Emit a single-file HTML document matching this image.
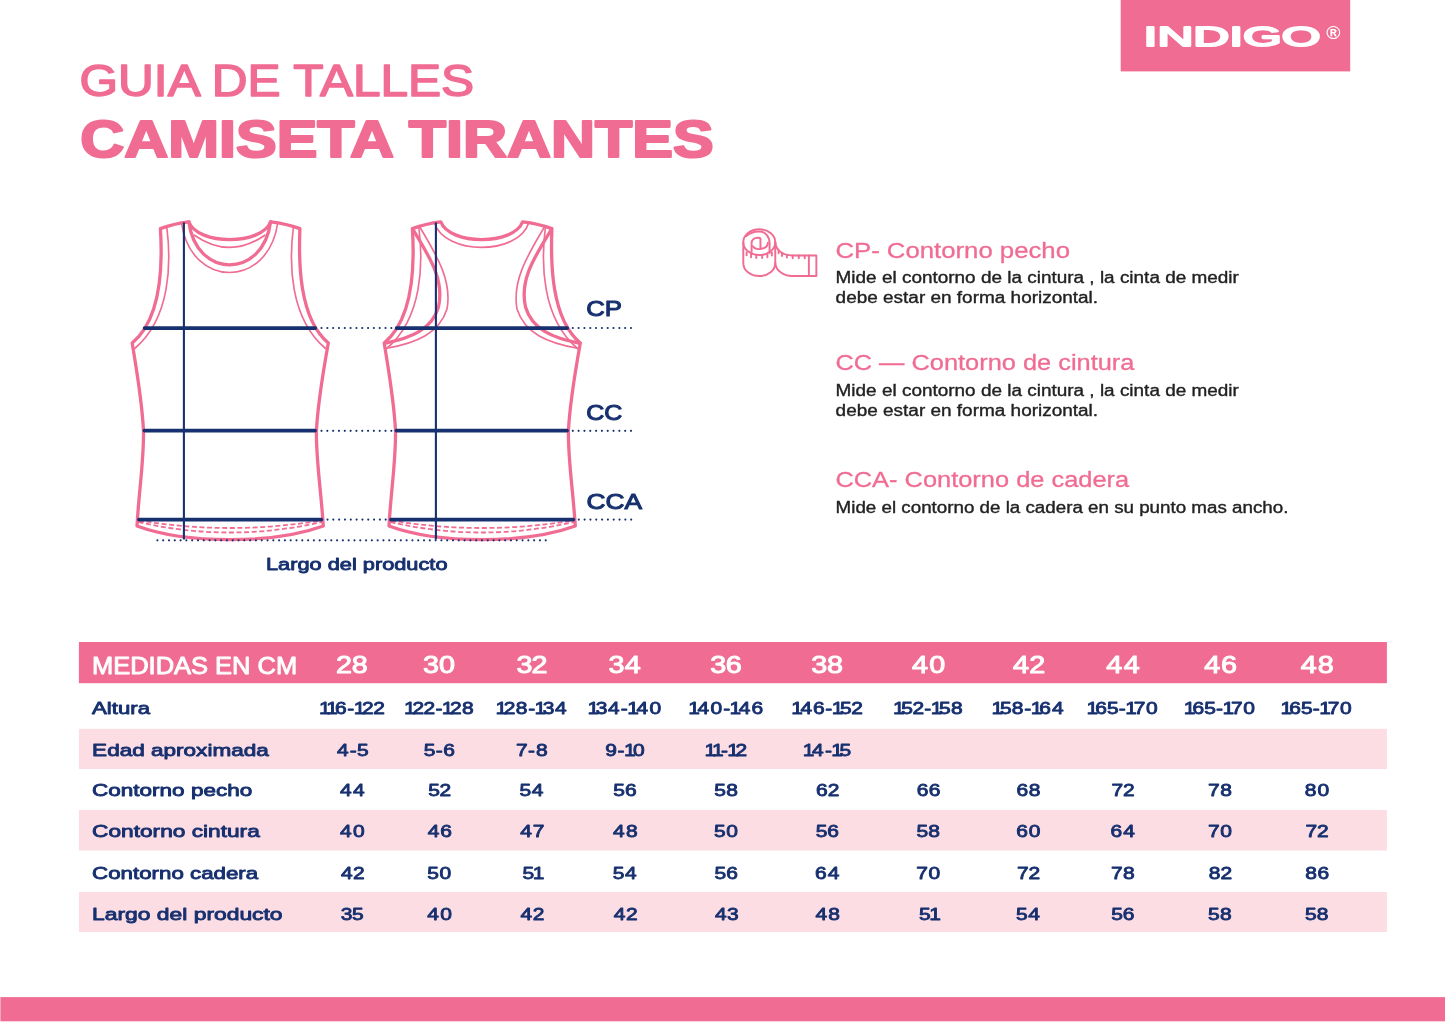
<!DOCTYPE html>
<html lang="es"><head><meta charset="utf-8"><title>Guia de talles - Camiseta tirantes</title>
<style>html,body{margin:0;padding:0;background:#fff}body{width:1445px;height:1022px;overflow:hidden;position:relative;font-family:"Liberation Sans", sans-serif}svg{position:absolute;left:0;top:0;display:block}svg text{font-family:"Liberation Sans", sans-serif;white-space:pre}</style>
</head><body>
<svg width="1445" height="1022" viewBox="0 0 1445 1022">
<rect x="1120.7" y="0" width="229.5" height="71.4" fill="#f06c93"/>
<rect x="0.4" y="997.1" width="1444.6" height="24.2" fill="#f06c93"/>
<text x="1143.6" y="46.1" font-size="27.2" fill="#fff" textLength="176.8" lengthAdjust="spacingAndGlyphs" stroke="#fff" stroke-width="2.0" stroke-linejoin="round">INDIGO</text>
<text x="1326.3" y="38.6" font-size="17.5" fill="#fff" font-weight="700" textLength="14.2" lengthAdjust="spacingAndGlyphs">®</text>
<text x="79.6" y="96.0" font-size="44.2" fill="#f06c93" textLength="394.5" lengthAdjust="spacingAndGlyphs" stroke="#f06c93" stroke-width="1.5" stroke-linejoin="round">GUIA DE TALLES</text>
<text x="80.2" y="156.5" font-size="51.0" fill="#f06c93" font-weight="700" textLength="633.5" lengthAdjust="spacingAndGlyphs" stroke="#f06c93" stroke-width="2.2" stroke-linejoin="round">CAMISETA TIRANTES</text>
<g transform="translate(0,0)" fill="none" stroke="#f06c93" stroke-linecap="round" stroke-linejoin="round">
<path d="M188.8,221.8 Q173.5,223.6 160.4,228.6 C162.5,262 162.3,318 132.2,343 C136.5,370 142,400 143.5,431 C144,460 139,490 137,526 C165,536.3 198,539.6 229.6,539.6 C262,539.6 295,536.3 323.3,526 C321,490 316,460 316.4,431 C318,400 323.5,370 328.3,343 C298.8,318 298.6,262 299.9,228.6 Q286.5,223.6 270.6,221.8 C263.2,279.2 196.2,279.2 188.8,221.8 Z" stroke-width="3.3"/>
<path d="M166.8,227 C171.2,262 171,318 134.7,348.5" stroke-width="1.65"/>
<path d="M293.4,227 C289,262 289.2,318 325.5,348.5" stroke-width="1.65"/>
<path d="M188.8,221.8 C197.4,245.5 262,245.5 270.6,221.8" stroke-width="3.3"/>
<path d="M194.4,235.2 Q229.6,259.6 264.8,235.2" stroke-width="1.65"/>
<path d="M181.5,223 C191,289 268.2,289 277.7,223" stroke-width="1.65"/>
<path d="M139,520.5 Q229.6,535.5 321.3,520.5" stroke-width="1.8" stroke-dasharray="5 2.6" stroke-linecap="butt"/>
<path d="M138.5,522 Q229.6,543 321.8,522" stroke-width="1.8" stroke-dasharray="5 2.6" stroke-linecap="butt"/>
</g>
<g transform="translate(252,0)" fill="none" stroke="#f06c93" stroke-linecap="round" stroke-linejoin="round">
<path d="M188.8,221.8 Q173.5,223.6 160.4,228.6 C162.5,262 162.3,318 132.2,343 C136.5,370 142,400 143.5,431 C144,460 139,490 137,526 C165,536.3 198,539.6 229.6,539.6 C262,539.6 295,536.3 323.3,526 C321,490 316,460 316.4,431 C318,400 323.5,370 328.3,343 C298.8,318 298.6,262 299.9,228.6 Q286.5,223.6 270.6,221.8 C262,245.5 197.4,245.5 188.8,221.8 Z" stroke-width="3.3"/>
<path d="M166.8,227 C171.2,262 171,318 134.7,348.5" stroke-width="1.65"/>
<path d="M293.4,227 C289,262 289.2,318 325.5,348.5" stroke-width="1.65"/>
<path d="M182.5,223 C193,255.5 266.2,255.5 276.7,223" stroke-width="1.65"/>
<path d="M161.2,229.8 C181,262 192,282 186.5,307 C180,329 160,338 132.6,343.3" stroke-width="3.3"/>
<path d="M299.2,229.8 C279,262 268,282 273.5,307 C280,329 300,338 327.9,343.3" stroke-width="3.3"/>
<path d="M167.2,226 C186.5,258 200,282 195,309 C187.5,333 165,343 133.5,348.5" stroke-width="1.65"/>
<path d="M293,226 C273.7,258 260.2,282 265,309 C272.5,333 295,343 327,348.5" stroke-width="1.65"/>
<path d="M139,520.5 Q229.6,535.5 321.3,520.5" stroke-width="1.8" stroke-dasharray="5 2.6" stroke-linecap="butt"/>
<path d="M138.5,522 Q229.6,543 321.8,522" stroke-width="1.8" stroke-dasharray="5 2.6" stroke-linecap="butt"/>
</g>
<g stroke="#17306f" fill="none" stroke-linecap="round">
<line x1="183.9" y1="222.5" x2="183.9" y2="539.5" stroke-width="2.1" stroke-linecap="butt"/>
<line x1="144.6" y1="328" x2="315.2" y2="328" stroke-width="3.75"/>
<line x1="144.4" y1="430.6" x2="315" y2="430.6" stroke-width="3.75"/>
<line x1="139" y1="519.5" x2="321.3" y2="519.5" stroke-width="3.75"/>
<line x1="435.9" y1="222.5" x2="435.9" y2="539.5" stroke-width="2.1" stroke-linecap="butt"/>
<line x1="396.6" y1="328" x2="567.2" y2="328" stroke-width="3.75"/>
<line x1="396.4" y1="430.6" x2="567" y2="430.6" stroke-width="3.75"/>
<line x1="391" y1="519.5" x2="573.3" y2="519.5" stroke-width="3.75"/>
<line x1="321.5" y1="328" x2="392.5" y2="328" stroke-width="2.15" stroke-dasharray="0 5.82"/>
<line x1="572.8" y1="328" x2="632" y2="328" stroke-width="2.15" stroke-dasharray="0 5.82"/>
<line x1="321.5" y1="430.8" x2="392.5" y2="430.8" stroke-width="2.15" stroke-dasharray="0 5.82"/>
<line x1="572.8" y1="430.8" x2="632" y2="430.8" stroke-width="2.15" stroke-dasharray="0 5.82"/>
<line x1="327.5" y1="519.6" x2="386" y2="519.6" stroke-width="2.15" stroke-dasharray="0 5.82"/>
<line x1="578.8" y1="519.6" x2="632.5" y2="519.6" stroke-width="2.15" stroke-dasharray="0 5.82"/>
<line x1="157.4" y1="540.3" x2="546.5" y2="540.3" stroke-width="2.15" stroke-dasharray="0 5.796"/>
</g>
<text x="586.2" y="316.4" font-size="22.8" fill="#17306f" textLength="35.8" lengthAdjust="spacingAndGlyphs" stroke="#17306f" stroke-width="1.05" stroke-linejoin="round">CP</text>
<text x="586.2" y="420.4" font-size="22.8" fill="#17306f" textLength="36.2" lengthAdjust="spacingAndGlyphs" stroke="#17306f" stroke-width="1.05" stroke-linejoin="round">CC</text>
<text x="586.6" y="509.0" font-size="22.8" fill="#17306f" textLength="55.6" lengthAdjust="spacingAndGlyphs" stroke="#17306f" stroke-width="1.05" stroke-linejoin="round">CCA</text>
<text x="266.0" y="569.9" font-size="16.7" fill="#17306f" textLength="181.5" lengthAdjust="spacingAndGlyphs" stroke="#17306f" stroke-width="0.85" stroke-linejoin="round">Largo del producto</text>
<g transform="translate(730,220) scale(0.0692)" fill="none" stroke="#f06c93" stroke-width="28" stroke-linecap="round" stroke-linejoin="round">
<ellipse cx="423" cy="320" rx="231" ry="187"/>
<path d="M192,320 V620 C192,728 295,810 423,810 C551,810 654,728 654,620 V320"/>
<path d="M654,320 C660,432 760,513 900,513 H1248 V810 H900 C772,810 660,730 654,620"/>
<line x1="1140" y1="513" x2="1140" y2="810"/>
<path d="M232,236 C280,190 350,165 422,165 C510,165 572,240 572,330 V478"/>
<path d="M312,478 V335 C312,290 350,258 400,256 C420,255 440,262 440,275 V405"/>
<path d="M330,380 C350,410 400,425 440,418 C500,410 545,380 548,330"/>
<line x1="240" y1="468" x2="240" y2="510"/>
<line x1="305" y1="495" x2="305" y2="537"/>
<line x1="380" y1="507" x2="380" y2="549"/>
<line x1="465" y1="507" x2="465" y2="549"/>
<line x1="540" y1="495" x2="540" y2="537"/>
<line x1="605" y1="470" x2="605" y2="512"/>
<line x1="702" y1="440" x2="702" y2="482"/>
<line x1="752" y1="478" x2="752" y2="520"/>
<line x1="822" y1="500" x2="822" y2="542"/>
<line x1="906" y1="512" x2="906" y2="554"/>
<line x1="994" y1="512" x2="994" y2="554"/>
<line x1="1080" y1="512" x2="1080" y2="554"/>
</g>
<text x="835.4" y="257.5" font-size="22.2" fill="#f06c93" textLength="234.6" lengthAdjust="spacingAndGlyphs" stroke="#f06c93" stroke-width="0.3" stroke-linejoin="round">CP- Contorno pecho</text>
<text x="835.6" y="283.4" font-size="15.6" fill="#222222" textLength="403.3" lengthAdjust="spacingAndGlyphs" stroke="#222222" stroke-width="0.35" stroke-linejoin="round">Mide el contorno de la cintura , la cinta de medir</text>
<text x="835.6" y="303.4" font-size="15.6" fill="#222222" textLength="262.5" lengthAdjust="spacingAndGlyphs" stroke="#222222" stroke-width="0.35" stroke-linejoin="round">debe estar en forma horizontal.</text>
<text x="835.4" y="369.7" font-size="22.2" fill="#f06c93" textLength="299.0" lengthAdjust="spacingAndGlyphs" stroke="#f06c93" stroke-width="0.3" stroke-linejoin="round">CC — Contorno de cintura</text>
<text x="835.6" y="395.8" font-size="15.6" fill="#222222" textLength="403.3" lengthAdjust="spacingAndGlyphs" stroke="#222222" stroke-width="0.35" stroke-linejoin="round">Mide el contorno de la cintura , la cinta de medir</text>
<text x="835.6" y="415.6" font-size="15.6" fill="#222222" textLength="262.5" lengthAdjust="spacingAndGlyphs" stroke="#222222" stroke-width="0.35" stroke-linejoin="round">debe estar en forma horizontal.</text>
<text x="835.4" y="486.9" font-size="22.2" fill="#f06c93" textLength="293.8" lengthAdjust="spacingAndGlyphs" stroke="#f06c93" stroke-width="0.3" stroke-linejoin="round">CCA- Contorno de cadera</text>
<text x="835.6" y="513.2" font-size="15.6" fill="#222222" textLength="452.8" lengthAdjust="spacingAndGlyphs" stroke="#222222" stroke-width="0.35" stroke-linejoin="round">Mide el contorno de la cadera en su punto mas ancho.</text>
<rect x="78.9" y="642" width="1308" height="41.2" fill="#f06c93"/>
<rect x="78.9" y="728.8" width="1308" height="40.3" fill="#fcdde4"/>
<rect x="78.9" y="810.0" width="1308" height="40.5" fill="#fcdde4"/>
<rect x="78.9" y="892.0" width="1308" height="40.0" fill="#fcdde4"/>
<text x="92.0" y="673.8" font-size="23.0" fill="#fff" textLength="205.2" lengthAdjust="spacingAndGlyphs" stroke="#fff" stroke-width="0.9" stroke-linejoin="round">MEDIDAS EN CM</text>
<text transform="translate(352.3,673.3) scale(1.17,1)" x="-13.97 -0.46" y="0" font-size="24.6" fill="#fff" stroke="#fff" stroke-width="1.0" stroke-linejoin="round">28</text>
<text transform="translate(439.6,673.3) scale(1.17,1)" x="-14.21 -0.46" y="0" font-size="24.6" fill="#fff" stroke="#fff" stroke-width="1.0" stroke-linejoin="round">30</text>
<text transform="translate(532.0,673.3) scale(1.17,1)" x="-13.22 -0.46" y="0" font-size="24.6" fill="#fff" stroke="#fff" stroke-width="1.0" stroke-linejoin="round">32</text>
<text transform="translate(625.2,673.3) scale(1.17,1)" x="-14.31 -0.46" y="0" font-size="24.6" fill="#fff" stroke="#fff" stroke-width="1.0" stroke-linejoin="round">34</text>
<text transform="translate(726.3,673.3) scale(1.17,1)" x="-13.69 -0.46" y="0" font-size="24.6" fill="#fff" stroke="#fff" stroke-width="1.0" stroke-linejoin="round">36</text>
<text transform="translate(827.5,673.3) scale(1.17,1)" x="-13.97 -0.46" y="0" font-size="24.6" fill="#fff" stroke="#fff" stroke-width="1.0" stroke-linejoin="round">38</text>
<text transform="translate(928.5,673.3) scale(1.17,1)" x="-14.21 0.63" y="0" font-size="24.6" fill="#fff" stroke="#fff" stroke-width="1.0" stroke-linejoin="round">40</text>
<text transform="translate(1028.5,673.3) scale(1.17,1)" x="-13.22 0.63" y="0" font-size="24.6" fill="#fff" stroke="#fff" stroke-width="1.0" stroke-linejoin="round">42</text>
<text transform="translate(1123.0,673.3) scale(1.17,1)" x="-14.31 0.63" y="0" font-size="24.6" fill="#fff" stroke="#fff" stroke-width="1.0" stroke-linejoin="round">44</text>
<text transform="translate(1220.2,673.3) scale(1.17,1)" x="-13.69 0.63" y="0" font-size="24.6" fill="#fff" stroke="#fff" stroke-width="1.0" stroke-linejoin="round">46</text>
<text transform="translate(1317.0,673.3) scale(1.17,1)" x="-13.97 0.63" y="0" font-size="24.6" fill="#fff" stroke="#fff" stroke-width="1.0" stroke-linejoin="round">48</text>
<text x="92.1" y="714.0" font-size="17.0" fill="#17306f" textLength="57.9" lengthAdjust="spacingAndGlyphs" stroke="#17306f" stroke-width="0.85" stroke-linejoin="round">Altura</text>
<text transform="translate(352.3,714.0) scale(1.22,1)" x="-27.33 -21.26 -14.15 -4.08 1.14 7.90 17.08" y="0" font-size="17.2" fill="#17306f" stroke="#17306f" stroke-width="0.85" stroke-linejoin="round">116-122</text>
<text transform="translate(439.6,714.0) scale(1.22,1)" x="-29.09 -22.32 -13.15 -3.41 1.81 8.57 18.29" y="0" font-size="17.2" fill="#17306f" stroke="#17306f" stroke-width="0.85" stroke-linejoin="round">122-128</text>
<text transform="translate(532.0,714.0) scale(1.22,1)" x="-29.87 -23.11 -13.39 -3.11 2.11 8.87 18.83" y="0" font-size="17.2" fill="#17306f" stroke="#17306f" stroke-width="0.85" stroke-linejoin="round">128-134</text>
<text transform="translate(625.2,714.0) scale(1.22,1)" x="-30.83 -24.07 -14.11 -3.58 1.63 9.19 19.86" y="0" font-size="17.2" fill="#17306f" stroke="#17306f" stroke-width="0.85" stroke-linejoin="round">134-140</text>
<text transform="translate(726.3,714.0) scale(1.22,1)" x="-31.17 -23.62 -12.94 -2.49 2.73 10.28 20.58" y="0" font-size="17.2" fill="#17306f" stroke="#17306f" stroke-width="0.85" stroke-linejoin="round">140-146</text>
<text transform="translate(827.5,714.0) scale(1.22,1)" x="-29.71 -22.16 -11.86 -1.78 3.44 10.24 19.45" y="0" font-size="17.2" fill="#17306f" stroke="#17306f" stroke-width="0.85" stroke-linejoin="round">146-152</text>
<text transform="translate(928.5,714.0) scale(1.22,1)" x="-29.16 -22.36 -13.15 -3.41 1.81 8.61 18.37" y="0" font-size="17.2" fill="#17306f" stroke="#17306f" stroke-width="0.85" stroke-linejoin="round">152-158</text>
<text transform="translate(1028.5,714.0) scale(1.22,1)" x="-30.25 -23.45 -13.69 -3.41 1.81 8.91 19.21" y="0" font-size="17.2" fill="#17306f" stroke="#17306f" stroke-width="0.85" stroke-linejoin="round">158-164</text>
<text transform="translate(1123.0,714.0) scale(1.22,1)" x="-29.83 -22.72 -13.17 -3.39 1.82 8.78 18.86" y="0" font-size="17.2" fill="#17306f" stroke="#17306f" stroke-width="0.85" stroke-linejoin="round">165-170</text>
<text transform="translate(1220.2,714.0) scale(1.22,1)" x="-29.83 -22.72 -13.17 -3.39 1.82 8.78 18.86" y="0" font-size="17.2" fill="#17306f" stroke="#17306f" stroke-width="0.85" stroke-linejoin="round">165-170</text>
<text transform="translate(1317.0,714.0) scale(1.22,1)" x="-29.83 -22.72 -13.17 -3.39 1.82 8.78 18.86" y="0" font-size="17.2" fill="#17306f" stroke="#17306f" stroke-width="0.85" stroke-linejoin="round">165-170</text>
<text x="92.1" y="755.5" font-size="17.0" fill="#17306f" textLength="176.7" lengthAdjust="spacingAndGlyphs" stroke="#17306f" stroke-width="0.85" stroke-linejoin="round">Edad aproximada</text>
<text transform="translate(352.3,755.5) scale(1.22,1)" x="-12.64 -2.12 3.83" y="0" font-size="17.2" fill="#17306f" stroke="#17306f" stroke-width="0.85" stroke-linejoin="round">4-5</text>
<text transform="translate(439.6,755.5) scale(1.22,1)" x="-12.94 -3.16 3.08" y="0" font-size="17.2" fill="#17306f" stroke="#17306f" stroke-width="0.85" stroke-linejoin="round">5-6</text>
<text transform="translate(532.0,755.5) scale(1.22,1)" x="-13.15 -3.22 3.23" y="0" font-size="17.2" fill="#17306f" stroke="#17306f" stroke-width="0.85" stroke-linejoin="round">7-8</text>
<text transform="translate(625.2,755.5) scale(1.22,1)" x="-16.36 -6.28 -1.07 6.42" y="0" font-size="17.2" fill="#17306f" stroke="#17306f" stroke-width="0.85" stroke-linejoin="round">9-10</text>
<text transform="translate(726.3,755.5) scale(1.22,1)" x="-17.82 -11.74 -4.41 0.80 7.56" y="0" font-size="17.2" fill="#17306f" stroke="#17306f" stroke-width="0.85" stroke-linejoin="round">11-12</text>
<text transform="translate(827.5,755.5) scale(1.22,1)" x="-20.19 -12.64 -2.12 3.10 9.90" y="0" font-size="17.2" fill="#17306f" stroke="#17306f" stroke-width="0.85" stroke-linejoin="round">14-15</text>
<text x="92.1" y="796.4" font-size="17.0" fill="#17306f" textLength="160.1" lengthAdjust="spacingAndGlyphs" stroke="#17306f" stroke-width="0.85" stroke-linejoin="round">Contorno pecho</text>
<text transform="translate(352.3,796.4) scale(1.22,1)" x="-10.16 0.59" y="0" font-size="17.2" fill="#17306f" stroke="#17306f" stroke-width="0.85" stroke-linejoin="round">44</text>
<text transform="translate(439.6,796.4) scale(1.22,1)" x="-9.37 -0.15" y="0" font-size="17.2" fill="#17306f" stroke="#17306f" stroke-width="0.85" stroke-linejoin="round">52</text>
<text transform="translate(532.0,796.4) scale(1.22,1)" x="-10.16 -0.15" y="0" font-size="17.2" fill="#17306f" stroke="#17306f" stroke-width="0.85" stroke-linejoin="round">54</text>
<text transform="translate(625.2,796.4) scale(1.22,1)" x="-9.71 -0.15" y="0" font-size="17.2" fill="#17306f" stroke="#17306f" stroke-width="0.85" stroke-linejoin="round">56</text>
<text transform="translate(726.3,796.4) scale(1.22,1)" x="-9.91 -0.15" y="0" font-size="17.2" fill="#17306f" stroke="#17306f" stroke-width="0.85" stroke-linejoin="round">58</text>
<text transform="translate(827.5,796.4) scale(1.22,1)" x="-9.37 0.14" y="0" font-size="17.2" fill="#17306f" stroke="#17306f" stroke-width="0.85" stroke-linejoin="round">62</text>
<text transform="translate(928.5,796.4) scale(1.22,1)" x="-9.71 0.14" y="0" font-size="17.2" fill="#17306f" stroke="#17306f" stroke-width="0.85" stroke-linejoin="round">66</text>
<text transform="translate(1028.5,796.4) scale(1.22,1)" x="-9.91 0.14" y="0" font-size="17.2" fill="#17306f" stroke="#17306f" stroke-width="0.85" stroke-linejoin="round">68</text>
<text transform="translate(1123.0,796.4) scale(1.22,1)" x="-9.37 -0.01" y="0" font-size="17.2" fill="#17306f" stroke="#17306f" stroke-width="0.85" stroke-linejoin="round">72</text>
<text transform="translate(1220.2,796.4) scale(1.22,1)" x="-9.91 -0.01" y="0" font-size="17.2" fill="#17306f" stroke="#17306f" stroke-width="0.85" stroke-linejoin="round">78</text>
<text transform="translate(1317.0,796.4) scale(1.22,1)" x="-10.09 0.35" y="0" font-size="17.2" fill="#17306f" stroke="#17306f" stroke-width="0.85" stroke-linejoin="round">80</text>
<text x="92.1" y="837.4" font-size="17.0" fill="#17306f" textLength="167.7" lengthAdjust="spacingAndGlyphs" stroke="#17306f" stroke-width="0.85" stroke-linejoin="round">Contorno cintura</text>
<text transform="translate(352.3,837.4) scale(1.22,1)" x="-10.09 0.59" y="0" font-size="17.2" fill="#17306f" stroke="#17306f" stroke-width="0.85" stroke-linejoin="round">40</text>
<text transform="translate(439.6,837.4) scale(1.22,1)" x="-9.71 0.59" y="0" font-size="17.2" fill="#17306f" stroke="#17306f" stroke-width="0.85" stroke-linejoin="round">46</text>
<text transform="translate(532.0,837.4) scale(1.22,1)" x="-9.56 0.59" y="0" font-size="17.2" fill="#17306f" stroke="#17306f" stroke-width="0.85" stroke-linejoin="round">47</text>
<text transform="translate(625.2,837.4) scale(1.22,1)" x="-9.91 0.59" y="0" font-size="17.2" fill="#17306f" stroke="#17306f" stroke-width="0.85" stroke-linejoin="round">48</text>
<text transform="translate(726.3,837.4) scale(1.22,1)" x="-10.09 -0.15" y="0" font-size="17.2" fill="#17306f" stroke="#17306f" stroke-width="0.85" stroke-linejoin="round">50</text>
<text transform="translate(827.5,837.4) scale(1.22,1)" x="-9.71 -0.15" y="0" font-size="17.2" fill="#17306f" stroke="#17306f" stroke-width="0.85" stroke-linejoin="round">56</text>
<text transform="translate(928.5,837.4) scale(1.22,1)" x="-9.91 -0.15" y="0" font-size="17.2" fill="#17306f" stroke="#17306f" stroke-width="0.85" stroke-linejoin="round">58</text>
<text transform="translate(1028.5,837.4) scale(1.22,1)" x="-10.09 0.14" y="0" font-size="17.2" fill="#17306f" stroke="#17306f" stroke-width="0.85" stroke-linejoin="round">60</text>
<text transform="translate(1123.0,837.4) scale(1.22,1)" x="-10.16 0.14" y="0" font-size="17.2" fill="#17306f" stroke="#17306f" stroke-width="0.85" stroke-linejoin="round">64</text>
<text transform="translate(1220.2,837.4) scale(1.22,1)" x="-10.09 -0.01" y="0" font-size="17.2" fill="#17306f" stroke="#17306f" stroke-width="0.85" stroke-linejoin="round">70</text>
<text transform="translate(1317.0,837.4) scale(1.22,1)" x="-9.37 -0.01" y="0" font-size="17.2" fill="#17306f" stroke="#17306f" stroke-width="0.85" stroke-linejoin="round">72</text>
<text x="92.1" y="878.5" font-size="17.0" fill="#17306f" textLength="166.1" lengthAdjust="spacingAndGlyphs" stroke="#17306f" stroke-width="0.85" stroke-linejoin="round">Contorno cadera</text>
<text transform="translate(352.3,878.5) scale(1.22,1)" x="-9.37 0.59" y="0" font-size="17.2" fill="#17306f" stroke="#17306f" stroke-width="0.85" stroke-linejoin="round">42</text>
<text transform="translate(439.6,878.5) scale(1.22,1)" x="-10.09 -0.15" y="0" font-size="17.2" fill="#17306f" stroke="#17306f" stroke-width="0.85" stroke-linejoin="round">50</text>
<text transform="translate(532.0,878.5) scale(1.22,1)" x="-7.82 0.71" y="0" font-size="17.2" fill="#17306f" stroke="#17306f" stroke-width="0.85" stroke-linejoin="round">51</text>
<text transform="translate(625.2,878.5) scale(1.22,1)" x="-10.16 -0.15" y="0" font-size="17.2" fill="#17306f" stroke="#17306f" stroke-width="0.85" stroke-linejoin="round">54</text>
<text transform="translate(726.3,878.5) scale(1.22,1)" x="-9.71 -0.15" y="0" font-size="17.2" fill="#17306f" stroke="#17306f" stroke-width="0.85" stroke-linejoin="round">56</text>
<text transform="translate(827.5,878.5) scale(1.22,1)" x="-10.16 0.14" y="0" font-size="17.2" fill="#17306f" stroke="#17306f" stroke-width="0.85" stroke-linejoin="round">64</text>
<text transform="translate(928.5,878.5) scale(1.22,1)" x="-10.09 -0.01" y="0" font-size="17.2" fill="#17306f" stroke="#17306f" stroke-width="0.85" stroke-linejoin="round">70</text>
<text transform="translate(1028.5,878.5) scale(1.22,1)" x="-9.37 -0.01" y="0" font-size="17.2" fill="#17306f" stroke="#17306f" stroke-width="0.85" stroke-linejoin="round">72</text>
<text transform="translate(1123.0,878.5) scale(1.22,1)" x="-9.91 -0.01" y="0" font-size="17.2" fill="#17306f" stroke="#17306f" stroke-width="0.85" stroke-linejoin="round">78</text>
<text transform="translate(1220.2,878.5) scale(1.22,1)" x="-9.37 0.35" y="0" font-size="17.2" fill="#17306f" stroke="#17306f" stroke-width="0.85" stroke-linejoin="round">82</text>
<text transform="translate(1317.0,878.5) scale(1.22,1)" x="-9.71 0.35" y="0" font-size="17.2" fill="#17306f" stroke="#17306f" stroke-width="0.85" stroke-linejoin="round">86</text>
<text x="92.1" y="919.7" font-size="17.0" fill="#17306f" textLength="190.5" lengthAdjust="spacingAndGlyphs" stroke="#17306f" stroke-width="0.85" stroke-linejoin="round">Largo del producto</text>
<text transform="translate(352.3,919.7) scale(1.22,1)" x="-9.41 -0.19" y="0" font-size="17.2" fill="#17306f" stroke="#17306f" stroke-width="0.85" stroke-linejoin="round">35</text>
<text transform="translate(439.6,919.7) scale(1.22,1)" x="-10.09 0.59" y="0" font-size="17.2" fill="#17306f" stroke="#17306f" stroke-width="0.85" stroke-linejoin="round">40</text>
<text transform="translate(532.0,919.7) scale(1.22,1)" x="-9.37 0.59" y="0" font-size="17.2" fill="#17306f" stroke="#17306f" stroke-width="0.85" stroke-linejoin="round">42</text>
<text transform="translate(625.2,919.7) scale(1.22,1)" x="-9.37 0.59" y="0" font-size="17.2" fill="#17306f" stroke="#17306f" stroke-width="0.85" stroke-linejoin="round">42</text>
<text transform="translate(726.3,919.7) scale(1.22,1)" x="-9.37 0.59" y="0" font-size="17.2" fill="#17306f" stroke="#17306f" stroke-width="0.85" stroke-linejoin="round">43</text>
<text transform="translate(827.5,919.7) scale(1.22,1)" x="-9.91 0.59" y="0" font-size="17.2" fill="#17306f" stroke="#17306f" stroke-width="0.85" stroke-linejoin="round">48</text>
<text transform="translate(928.5,919.7) scale(1.22,1)" x="-7.82 0.71" y="0" font-size="17.2" fill="#17306f" stroke="#17306f" stroke-width="0.85" stroke-linejoin="round">51</text>
<text transform="translate(1028.5,919.7) scale(1.22,1)" x="-10.16 -0.15" y="0" font-size="17.2" fill="#17306f" stroke="#17306f" stroke-width="0.85" stroke-linejoin="round">54</text>
<text transform="translate(1123.0,919.7) scale(1.22,1)" x="-9.71 -0.15" y="0" font-size="17.2" fill="#17306f" stroke="#17306f" stroke-width="0.85" stroke-linejoin="round">56</text>
<text transform="translate(1220.2,919.7) scale(1.22,1)" x="-9.91 -0.15" y="0" font-size="17.2" fill="#17306f" stroke="#17306f" stroke-width="0.85" stroke-linejoin="round">58</text>
<text transform="translate(1317.0,919.7) scale(1.22,1)" x="-9.91 -0.15" y="0" font-size="17.2" fill="#17306f" stroke="#17306f" stroke-width="0.85" stroke-linejoin="round">58</text>
</svg>
</body></html>
